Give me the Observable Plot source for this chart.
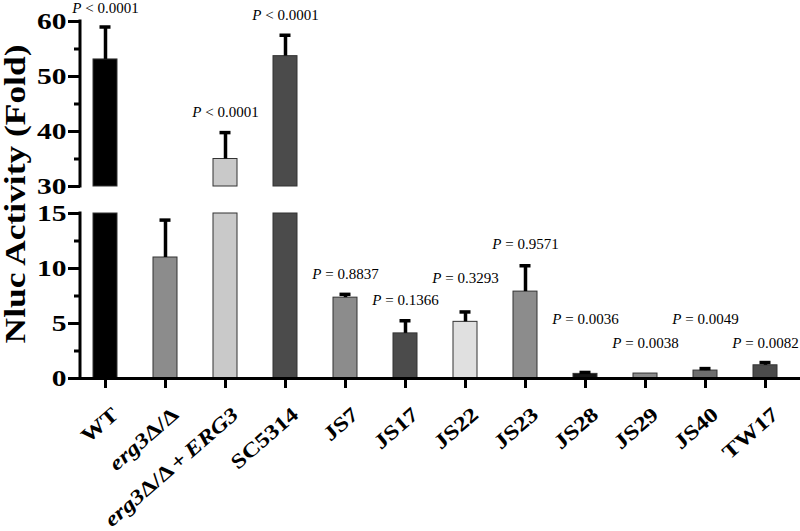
<!DOCTYPE html>
<html>
<head>
<meta charset="utf-8">
<script src="https://cdn.jsdelivr.net/npm/d3@7"></script>
<script src="https://cdn.jsdelivr.net/npm/@observablehq/plot@0.6"></script>
<style>
  html, body { margin: 0; padding: 0; background: #fff; }
</style>
</head>
<body>
<div id="chart"></div>
<script>
// ---- data ----
const strains = ["WT", "erg3Δ/Δ", "erg3Δ/Δ + ERG3", "SC5314", "JS7", "JS17", "JS22", "JS23", "JS28", "JS29", "JS40", "TW17"];
const means   = [53.1, 11.0, 35.0, 53.7, 7.35, 4.1, 5.15, 7.9, 0.42, 0.45, 0.72, 1.2];
const errTops = [59.0, 14.4, 39.8, 57.5, 7.65, 5.25, 6.05, 10.25, 0.55, null, 0.9, 1.45];
const fills   = ["#000000", "#8c8c8c", "#c9c9c9", "#4b4b4b", "#8c8c8c", "#4b4b4b", "#e0e0e0", "#8c8c8c", "#141414", "#8c8c8c", "#6e6e6e", "#4b4b4b"];
const pLabels = ["P < 0.0001", null, "P < 0.0001", "P < 0.0001", "P = 0.8837", "P = 0.1366", "P = 0.3293", "P = 0.9571", "P = 0.0036", "P = 0.0038", "P = 0.0049", "P = 0.0082"];
const pLabelAt = [62.5, null, 43.6, 61.2, 9.5, 7.1, 9.1, 12.2, 5.36, 3.2, 5.36, 3.2];
const yTicks = [0, 5, 10, 15, 30, 40, 50, 60];
const yMinorTicks = [2.5, 7.5, 12.5, 35, 45, 55];
const lowerSeg = [0, 15];
const upperSeg = [30, 60];
const yTitle = "Nluc Activity (Fold)";

const data = strains.map((s, i) => ({strain: s, mean: means[i], errTop: errTops[i], fill: fills[i], p: pLabels[i], pAt: pLabelAt[i]}));

const serif = "'Liberation Serif', 'Times New Roman', serif";

const spines = (index, scales, values, dimensions) => {
  const g = d3.create("svg:g").attr("stroke", "#000").attr("stroke-width", 3).attr("stroke-linecap", "square");
  for (const [a, b] of [lowerSeg, upperSeg]) {
    g.append("line")
      .attr("x1", dimensions.marginLeft).attr("x2", dimensions.marginLeft)
      .attr("y1", scales.y(a)).attr("y2", scales.y(b));
  }
  return g.node();
};

const chart = Plot.plot({
  width: 800,
  height: 531,
  marginLeft: 80,
  marginRight: 0,
  marginTop: 21,
  marginBottom: 153,
  style: {fontFamily: serif, background: "#fff", color: "#000", overflow: "visible"},
  x: {domain: strains, paddingInner: 0.6, paddingOuter: 0.256, align: 0.353, label: null},
  y: {type: "linear", domain: [lowerSeg[0], lowerSeg[1], upperSeg[0], upperSeg[1]], range: [378, 213, 186, 21], label: null},
  marks: [
    Plot.barY(data, {x: "strain", y1: lowerSeg[0], y2: d => Math.min(d.mean, lowerSeg[1]), fill: d => d.fill, stroke: "#333", strokeWidth: 1}),
    Plot.barY(data.filter(d => d.mean > upperSeg[0]), {x: "strain", y1: upperSeg[0], y2: "mean", fill: d => d.fill, stroke: "#333", strokeWidth: 1}),
    Plot.ruleX(data.filter(d => d.errTop != null), {x: "strain", y1: "mean", y2: "errTop", stroke: "#000", strokeWidth: 3.5}),
    Plot.tickY(data.filter(d => d.errTop != null), {x: "strain", y: "errTop", stroke: "#000", strokeWidth: 3.5, insetLeft: 6.5, insetRight: 6.5}),
    Plot.ruleY([0], {stroke: "#000", strokeWidth: 3}),
    spines,
    Plot.axisY({ticks: yTicks, tickSize: 12, tickPadding: 2, strokeWidth: 3, fontSize: 24, fontWeight: "bold", label: null}),
    Plot.axisY({ticks: yMinorTicks, tickSize: 6, strokeWidth: 3, tickFormat: () => "", label: null}),
    Plot.axisX({tickSize: 10, strokeWidth: 3, tickFormat: () => "", label: null}),
    Plot.text(data, {x: "strain", y: 0, text: "strain", rotate: -41, textAnchor: "end", lineAnchor: "middle", dx: 10, dy: 33, fontSize: 20.5, fontWeight: "bold", fill: "#000"}),
    Plot.text(data.filter(d => d.p), {x: "strain", y: "pAt", text: "p", fontSize: 15, fill: "#000"}),
    Plot.text([yTitle], {frameAnchor: "left", text: d => d, rotate: -90, textAnchor: "middle", dx: -65, dy: -6, fontSize: 29.5, fontWeight: "bold", fill: "#000"})
  ]
});

document.getElementById("chart").append(chart);

const root = d3.select(chart);
const strainSet = new Set(strains);
const widen = (sel, k) => sel.each(function() {
  const t = this.getAttribute("transform") || "";
  this.setAttribute("transform", (t + ` scale(${k},1)`).trim());
});
const allText = root.selectAll("text");
const yTickSet = new Set(yTicks.map(String));
widen(allText.filter(function() { return yTickSet.has(this.textContent) && this.closest('g[aria-label="y-axis tick label"]'); }), 1.23);
const xLabelSel = allText.filter(function() { return strainSet.has(this.textContent) && /rotate/.test(this.getAttribute("transform") || ""); });
widen(xLabelSel, 1.22);
widen(allText.filter(function() { return this.textContent === yTitle; }), 1.2);

function setParts(el, parts) {
  const t = d3.select(el);
  t.text(null);
  for (const [s, it] of parts) {
    const ts = t.append("tspan").text(s);
    if (it) ts.attr("font-style", "italic");
  }
}
xLabelSel.each(function() {
  const s = this.textContent;
  if (/ /.test(s)) this.setAttribute("word-spacing", "-1.5");
  if (/erg3|ERG3/.test(s)) {
    setParts(this, s.split(/(erg3|ERG3)/).filter(x => x !== "").map(x => [x, /^(erg3|ERG3)$/.test(x)]));
  }
});
const pSet = new Set(pLabels.filter(Boolean));
allText.filter(function() { return pSet.has(this.textContent); }).each(function() {
  const s = this.textContent;
  setParts(this, [[s.slice(0, 1), true], [s.slice(1), false]]);
});
</script>
</body>
</html>
